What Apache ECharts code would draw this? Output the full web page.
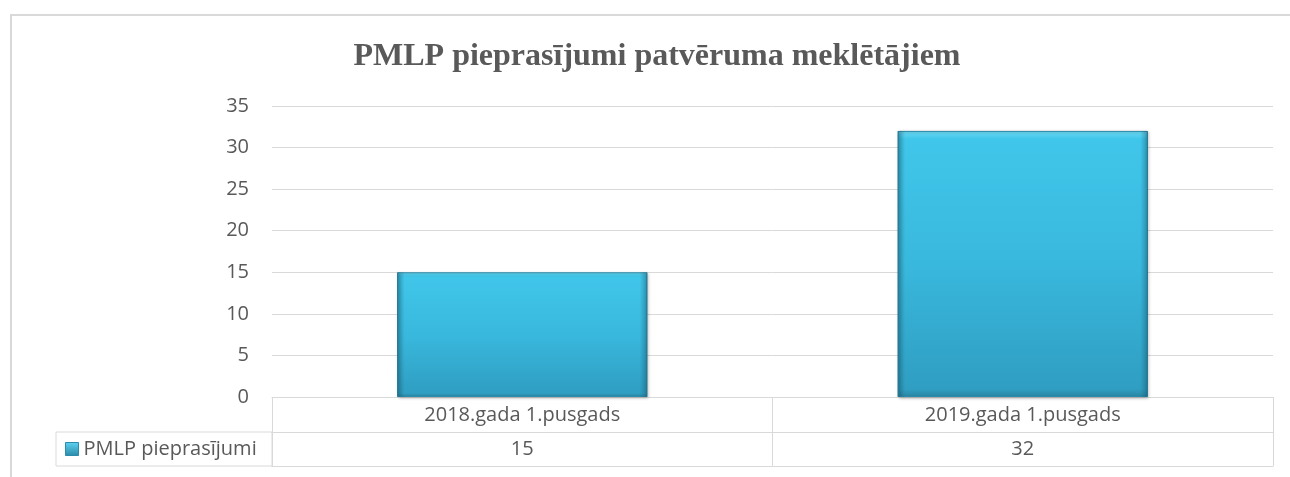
<!DOCTYPE html>
<html>
<head>
<meta charset="utf-8">
<script src="https://cdn.jsdelivr.net/npm/echarts@6/dist/echarts.min.js"></script>
<style>html,body{margin:0;padding:0;background:#fff;}#c{width:1290px;height:477px;}</style>
</head>
<body>
<div id="c"></div>
<script>
const chartTitle = 'PMLP pieprasījumi patvēruma meklētājiem';
const categories = ['2018.gada 1.pusgads', '2019.gada 1.pusgads'];
const seriesName = 'PMLP pieprasījumi';
const values = [15, 32];
const yTicks = { min: 0, max: 35, interval: 5 };

const txt = '#595959';
const lineC = '#d9d9d9';
const font = '"Open Sans", "Noto Sans", sans-serif';
const fs = 20;

const barColor = new echarts.graphic.LinearGradient(0, 0, 0, 1, [
  { offset: 0, color: '#6fdcf6' },
  { offset: 0.03, color: '#40c6ea' },
  { offset: 0.5, color: '#39b8dd' },
  { offset: 0.97, color: '#2f9ec2' },
  { offset: 1, color: '#2a86a3' }
]);
const edgeShade = new echarts.graphic.LinearGradient(0, 0, 1, 0, [
  { offset: 0, color: 'rgba(20,80,100,0.45)' },
  { offset: 0.03, color: 'rgba(20,80,100,0)' },
  { offset: 0.97, color: 'rgba(20,80,100,0)' },
  { offset: 1, color: 'rgba(20,80,100,0.45)' }
]);
const iconColor = new echarts.graphic.LinearGradient(0, 0, 0, 1, [
  { offset: 0, color: '#5fd3f2' },
  { offset: 1, color: '#2a8aa8' }
]);

const chart = echarts.init(document.getElementById('c'));
chart.setOption({
  animation: false,
  backgroundColor: '#fff',
  grid: { left: 272, right: 17, top: 106, bottom: 80, containLabel: false },
  legend: {
    data: [{ name: seriesName, itemStyle: { color: iconColor, borderColor: '#2b8cab', borderWidth: 1 } }],
    left: 65, top: 439, padding: 0,
    icon: 'rect', itemWidth: 13, itemHeight: 13, itemGap: 5,
    textStyle: { fontSize: fs, color: txt, fontFamily: font }
  },
  xAxis: [
    {
      type: 'category', data: categories, position: 'bottom',
      axisLine: { show: true, lineStyle: { color: lineC, width: 1 } },
      axisTick: { show: true, length: 69, interval: 0, lineStyle: { color: lineC, width: 1 } },
      axisLabel: { margin: 8, fontSize: fs, color: txt, fontFamily: font, interval: 0 },
      splitLine: { show: false }
    },
    {
      type: 'category', data: values.map(String), position: 'bottom', offset: 35,
      axisLine: { show: true, lineStyle: { color: lineC, width: 1 } },
      axisTick: { show: false },
      axisLabel: { margin: 7, fontSize: fs, color: txt, fontFamily: font, interval: 0 },
      splitLine: { show: false }
    },
    {
      type: 'category', data: categories, position: 'bottom', offset: 69,
      axisLine: { show: true, lineStyle: { color: lineC, width: 1 } },
      axisTick: { show: false },
      axisLabel: { show: false },
      splitLine: { show: false }
    }
  ],
  yAxis: {
    type: 'value', min: yTicks.min, max: yTicks.max, interval: yTicks.interval,
    axisLine: { show: false }, axisTick: { show: false },
    axisLabel: { margin: 23, fontSize: fs, color: txt, fontFamily: font },
    splitLine: { show: true, lineStyle: { color: lineC, width: 1 } }
  },
  series: [
    {
      name: seriesName, type: 'bar', data: values, xAxisIndex: 0,
      barWidth: '50%',
      itemStyle: { color: barColor, borderColor: '#2b8cab', borderWidth: 1,
        shadowColor: 'rgba(0,0,0,0.25)', shadowBlur: 3, shadowOffsetX: 1, shadowOffsetY: 1 }
    },
    {
      name: 'bevel', type: 'bar', data: values, xAxisIndex: 0,
      barWidth: '50%', barGap: '-100%', silent: true, z: 3,
      itemStyle: { color: edgeShade }
    }
  ],
  graphic: [
    { type: 'rect', silent: true, z: -1, shape: { x: 11, y: 15, width: 1300, height: 500 },
      style: { fill: 'none', stroke: lineC, lineWidth: 2 } },
    { type: 'rect', silent: true, shape: { x: 56, y: 432, width: 216, height: 34 },
      style: { fill: 'none', stroke: lineC, lineWidth: 1 } },
    { type: 'text', silent: true, x: 657, y: 57,
      style: { text: chartTitle, fill: txt, font: 'bold 32px "Liberation Serif", "DejaVu Serif", serif',
        textAlign: 'center', textVerticalAlign: 'middle' } }
  ]
});
</script>
</body>
</html>
